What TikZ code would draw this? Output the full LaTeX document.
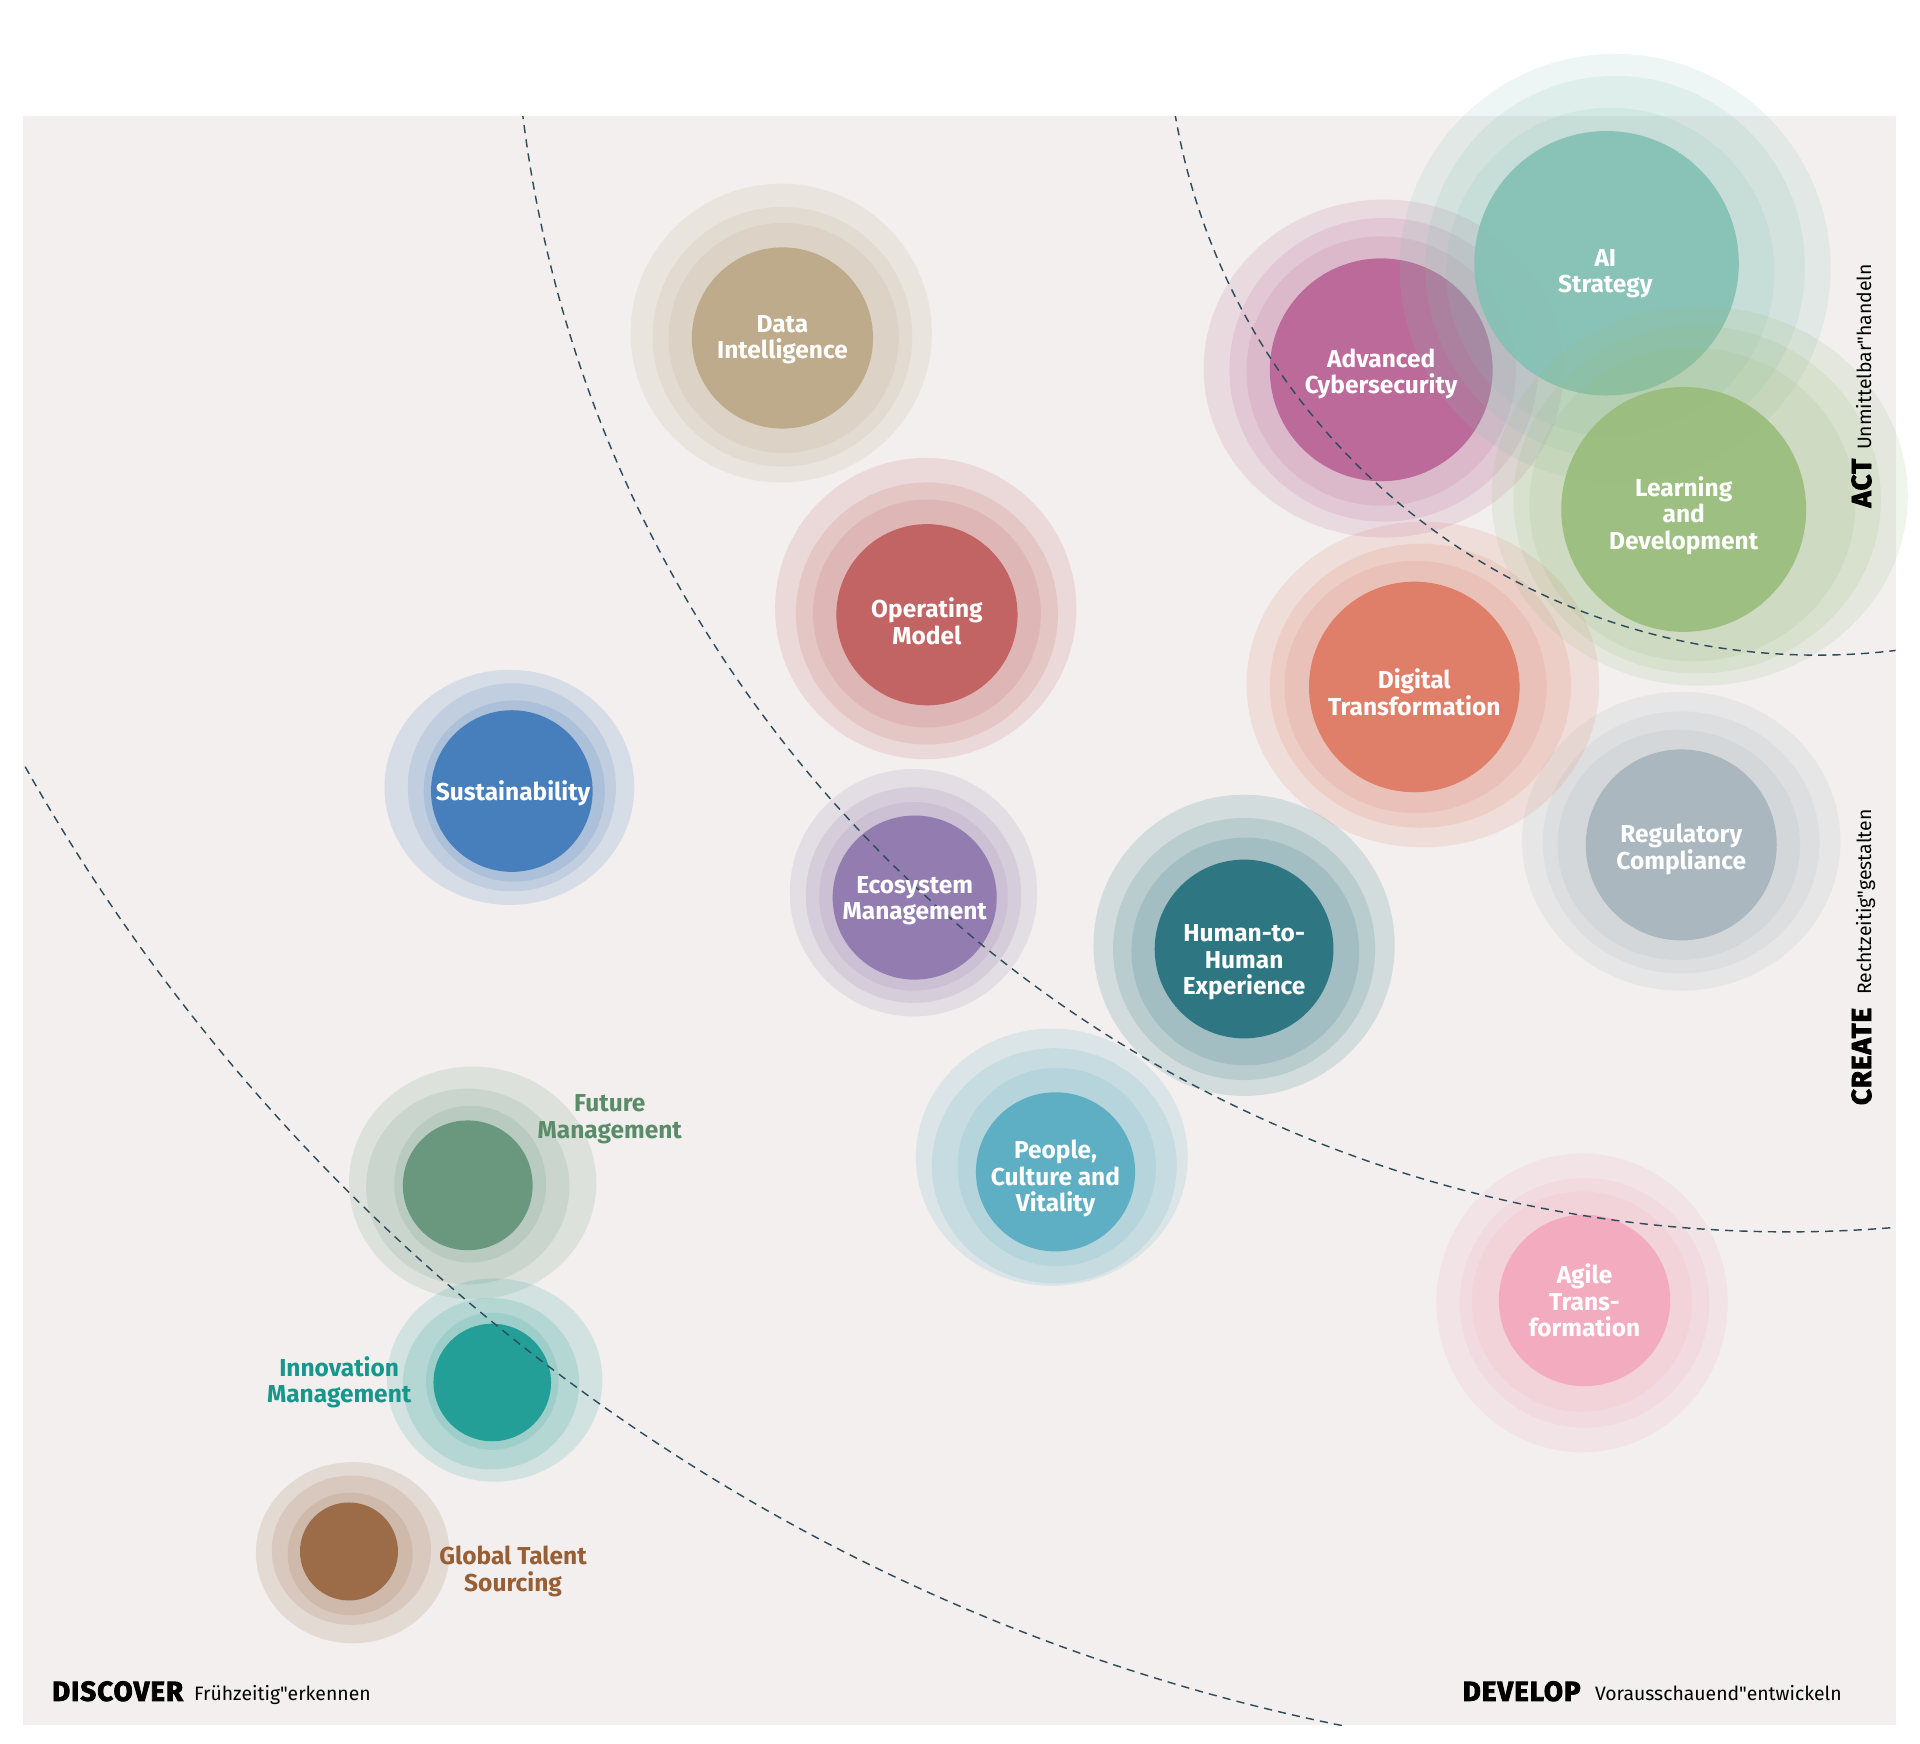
\documentclass[tikz,border=0pt]{standalone}
\usepackage{fontspec}
\setmainfont{Fira Sans}
\newfontfamily\heavyfont{Fira Sans}[FakeBold=3, LetterSpace=4]
\newfontfamily\plainfont{Fira Sans}

\definecolor{cPanel}{HTML}{F2EFEE}
\definecolor{cLine}{HTML}{2E4B5B}
\definecolor{cData}{HTML}{BCA888}
\definecolor{cOper}{HTML}{C25E5E}
\definecolor{cEco}{HTML}{8E77AE}
\definecolor{cSust}{HTML}{3F7BBA}
\definecolor{cHuman}{HTML}{27717F}
\definecolor{cPeople}{HTML}{58ADC2}
\definecolor{cDigi}{HTML}{E07B64}
\definecolor{cCyber}{HTML}{BA6496}
\definecolor{cAI}{HTML}{85C1B5}
\definecolor{cLearn}{HTML}{9ABD7D}
\definecolor{cReg}{HTML}{A8B5BD}
\definecolor{cAgile}{HTML}{F2A8BE}
\definecolor{cFuture}{HTML}{63957A}
\definecolor{cInno}{HTML}{1B9C94}
\definecolor{cGlobal}{HTML}{996640}
\definecolor{tFuture}{HTML}{5A8C6A}
\definecolor{tInno}{HTML}{16978D}
\definecolor{tGlobal}{HTML}{985F35}

\tikzset{every picture/.style={line width=0.75pt},
  halo/.style={fill=#1, fill opacity=0.15},
  core/.style={fill=#1, fill opacity=0.93},
  inlabel/.style={text=white, align=center, inner sep=0pt, font=\bfseries\fontsize{12}{13}\selectfont},
  outlabel/.style={text=#1, align=center, inner sep=0pt, font=\bfseries\fontsize{12}{13}\selectfont},
  zone/.style={draw=cLine, line width=0.7pt, dash pattern={on 4pt off 3pt}},
  tag/.style={inner sep=0pt, font=\heavyfont\bfseries\fontsize{13.5}{14}\selectfont},
  subtag/.style={inner sep=0pt, font=\plainfont\fontsize{9.5}{11}\selectfont}}

\begin{document}
\begin{tikzpicture}[x=0.6pt,y=0.6pt,yscale=-1,xscale=1]
		\useasboundingbox (0,0) rectangle (1568,1424);
		
		%Shape: Rectangle [panel]
		\coordinate (panelnw) at (19,95);
		\coordinate (panelse) at (1548,1409);
		\fill [cPanel] (panelnw) rectangle (panelse);
		
		%Shape: Circle [Data Intelligence]
		\fill [halo=cData] (638,272) ellipse [x radius=123, y radius=122];
		\fill [halo=cData] (639,275) circle (106);
		\fill [halo=cData] (640,276) circle (94);
		\fill [core=cData] (639,276) circle (74);
		%Shape: Circle [Operating Model]
		\fill [halo=cOper] (756,497) circle (123);
		\fill [halo=cOper] (757,501) circle (107);
		\fill [halo=cOper] (757,501) circle (93);
		\fill [core=cOper] (757,502) circle (74);
		%Shape: Circle [Sustainability]
		\fill [halo=cSust] (416,643) ellipse [x radius=102, y radius=96];
		\fill [halo=cSust] (418,643) circle (85);
		\fill [halo=cSust] (420,646) circle (74);
		\fill [core=cSust] (418,646) circle (66);
		%Shape: Circle [Ecosystem Management]
		\fill [halo=cEco] (746,729) circle (101);
		\fill [halo=cEco] (746,731) circle (88);
		\fill [halo=cEco] (746,732) circle (77);
		\fill [core=cEco] (747,733) circle (67);
		%Shape: Circle [Human-to-Human Experience]
		\fill [halo=cHuman] (1016,772) circle (123);
		\fill [halo=cHuman] (1016,775) circle (107);
		\fill [halo=cHuman] (1017,777) circle (93);
		\fill [core=cHuman] (1016,775) circle (73);
		%Shape: Circle [People, Culture and Vitality]
		\fill [halo=cPeople] (859,945) ellipse [x radius=111, y radius=105];
		\fill [halo=cPeople] (861,952) ellipse [x radius=100, y radius=96];
		\fill [halo=cPeople] (863,953) circle (81);
		\fill [core=cPeople] (862,957) circle (65);
		%Shape: Circle [Regulatory Compliance]
		\fill [halo=cReg] (1373,687) ellipse [x radius=130, y radius=122];
		\fill [halo=cReg] (1373,688) ellipse [x radius=113, y radius=107];
		\fill [halo=cReg] (1371,690) ellipse [x radius=99, y radius=94];
		\fill [core=cReg] (1373,690) circle (78);
		%Shape: Circle [Digital Transformation]
		\fill [halo=cDigi] (1162,559) ellipse [x radius=144, y radius=133];
		\fill [halo=cDigi] (1160,560) ellipse [x radius=123, y radius=116];
		\fill [halo=cDigi] (1156,561) ellipse [x radius=107, y radius=103];
		\fill [core=cDigi] (1155,561) circle (86);
		%Shape: Circle [Advanced Cybersecurity]
		\fill [halo=cCyber] (1130,301) ellipse [x radius=147, y radius=138];
		\fill [halo=cCyber] (1130,302) ellipse [x radius=126, y radius=124];
		\fill [halo=cCyber] (1128,303) circle (110);
		\fill [core=cCyber] (1128,302) circle (91);
		%Shape: Circle [AI Strategy]
		\fill [halo=cAI] (1319,219) ellipse [x radius=176, y radius=175];
		\fill [halo=cAI] (1319,218) ellipse [x radius=155, y radius=156];
		\fill [halo=cAI] (1315,222) circle (134);
		\fill [core=cAI] (1312,215) circle (108);
		%Shape: Circle [Learning and Development]
		\fill [halo=cLearn] (1388,405) ellipse [x radius=170, y radius=155];
		\fill [halo=cLearn] (1386,408) ellipse [x radius=150, y radius=142];
		\fill [halo=cLearn] (1382,412) ellipse [x radius=133, y radius=128];
		\fill [core=cLearn] (1375,416) circle (100);
		%Shape: Circle [Agile Transformation]
		\fill [halo=cAgile] (1292,1064) ellipse [x radius=119, y radius=122];
		\fill [halo=cAgile] (1294,1064) circle (102);
		\fill [halo=cAgile] (1292,1063) circle (90);
		\fill [core=cAgile] (1294,1062) circle (70);
		%Shape: Circle [Future Management]
		\fill [halo=cFuture] (386,966) ellipse [x radius=101, y radius=95];
		\fill [halo=cFuture] (382,969) ellipse [x radius=83, y radius=80];
		\fill [halo=cFuture] (384,967) ellipse [x radius=62, y radius=64];
		\fill [core=cFuture] (382,968) circle (53);
		%Shape: Circle [Innovation Management]
		\fill [halo=cInno] (404,1127) ellipse [x radius=88, y radius=83];
		\fill [halo=cInno] (401,1130) ellipse [x radius=72, y radius=70];
		\fill [halo=cInno] (402,1128) ellipse [x radius=54, y radius=56];
		\fill [core=cInno] (402,1129) circle (48);
		%Shape: Circle [Global Talent Sourcing]
		\fill [halo=cGlobal] (288,1268) ellipse [x radius=79, y radius=74];
		\fill [halo=cGlobal] (287,1266) ellipse [x radius=65, y radius=61];
		\fill [halo=cGlobal] (286,1269) ellipse [x radius=51, y radius=50];
		\fill [core=cGlobal] (285,1267) circle (40);
		
		%Straight Lines [zone borders]
		\begin{scope}
		\clip (panelnw) rectangle (panelse);
		\draw [zone] (1415,-159) circle (1600);
		\draw [zone] (1460,-35) circle (1041);
		\draw [zone] (1484,3) circle (532);
		\end{scope}
		
		% Text Node
		\node [inlabel] (data) at (639,277.5) {Data\\Intelligence};
		% Text Node
		\node [inlabel] (oper) at (757,507.5) {Operating\\Model};
		% Text Node
		\node [inlabel] (sust) at (419,648) {Sustainability};
		% Text Node
		\node [inlabel] (eco) at (747,735.5) {Ecosystem\\Management};
		% Text Node
		\node [inlabel] (human) at (1016,786) {Human-to-\\Human\\Experience};
		% Text Node
		\node [inlabel] (people) at (862,962.5) {People,\\Culture and\\Vitality};
		% Text Node
		\node [inlabel] (reg) at (1373,693.5) {Regulatory\\Compliance};
		% Text Node
		\node [inlabel] (digi) at (1155,565.5) {Digital\\Transformation};
		% Text Node
		\node [inlabel] (cyber) at (1128,305.5) {Advanced\\Cybersecurity};
		% Text Node
		\node [inlabel] (ai) at (1311,223.5) {AI\\Strategy};
		% Text Node
		\node [inlabel] (learn) at (1375,421) {Learning\\and\\Development};
		% Text Node
		\node [inlabel] (agile) at (1294,1062) {Agile\\Trans-\\formation};
		% Text Node
		\node [outlabel=tFuture] (future) at (498,914) {Future\\Management};
		% Text Node
		\node [outlabel=tInno] (inno) at (277,1129) {Innovation\\Management};
		% Text Node
		\node [outlabel=tGlobal] (global) at (419,1283.5) {Global Talent\\Sourcing};
		
		% Text Node
		\node [tag, anchor=base west] (discover) at (42,1389) {DISCOVER};
		% Text Node
		\node [subtag, anchor=base west] (discovertxt) at (158,1389) {Frühzeitig"erkennen};
		% Text Node
		\node [tag, anchor=base west] (develop) at (1194,1389) {DEVELOP};
		% Text Node
		\node [subtag, anchor=base west] (developtxt) at (1302,1389) {Vorausschauend"entwickeln};
		% Text Node
		\node [tag, rotate=90, anchor=base west] (create) at (1528,903) {CREATE};
		% Text Node
		\node [subtag, rotate=90, anchor=base west] (createtxt) at (1528,813) {Rechtzeitig"gestalten};
		% Text Node
		\node [tag, rotate=90, anchor=base west] (act) at (1528,415) {ACT};
		% Text Node
		\node [subtag, rotate=90, anchor=base west] (acttxt) at (1528,368) {Unmittelbar"handeln};
\end{tikzpicture}
\end{document}
